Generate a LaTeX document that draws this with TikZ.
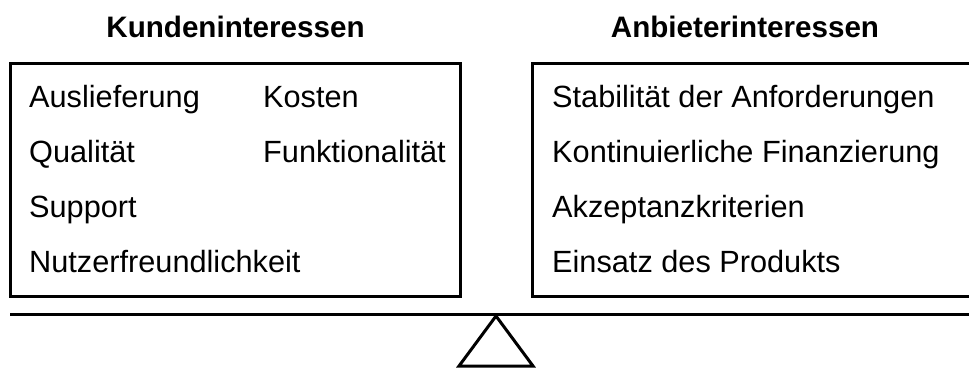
\documentclass[tikz,border=0pt]{standalone}
\usepackage{fontspec}
\setmainfont{Liberation Sans}
\usetikzlibrary{calc}

\begin{document}
\begin{tikzpicture}[x=1pt,y=-1pt,
  title/.style={font=\fontsize{29.6}{34}\selectfont\bfseries,anchor=base,inner sep=0pt},
  item/.style={font=\fontsize{30.7}{36}\selectfont,anchor=base west,inner sep=0pt},
  interest box/.style={draw,line width=3pt,minimum height=233pt,inner sep=0pt}]
  \useasboundingbox (0,0) rectangle (969,368);
  \node[title] (customer title) at (235.5,37) {Kundeninteressen};
  \node[title] (vendor title) at (745,37) {Anbieterinteressen};
  \node[interest box,minimum width=449.5pt] (customer box) at (235.25,179.5) {};
  \node[interest box,minimum width=442pt] (vendor box) at (753.85,179.5) {};
  \node[item] (delivery) at (29,107) {Auslieferung};
  \node[item] (costs) at (263,107) {Kosten};
  \node[item] (quality) at (29,162) {Qualität};
  \node[item] (functions) at (263,162) {Funktionalität};
  \node[item] (support) at (29,217) {Support};
  \node[item] (usability) at (29,272) {Nutzerfreundlichkeit};
  \node[item] (stability) at (552,107) {Stabilität der Anforderungen};
  \node[item] (funding) at (552,162) {Kontinuierliche Finanzierung};
  \node[item] (acceptance) at (552,217) {Akzeptanzkriterien};
  \node[item] (deployment) at (552,272) {Einsatz des Produkts};
  \coordinate (beam left) at (10,314.5);
  \coordinate (beam right) at (975,314.5);
  \coordinate (pivot) at (496,316);
  \draw[line width=3pt] (beam left) -- (beam right);
  \draw[line width=3pt] (pivot) -- ($ (pivot) + (-37,50) $) -- ($ (pivot) + (37,50) $) -- cycle;
\end{tikzpicture}
\end{document}
